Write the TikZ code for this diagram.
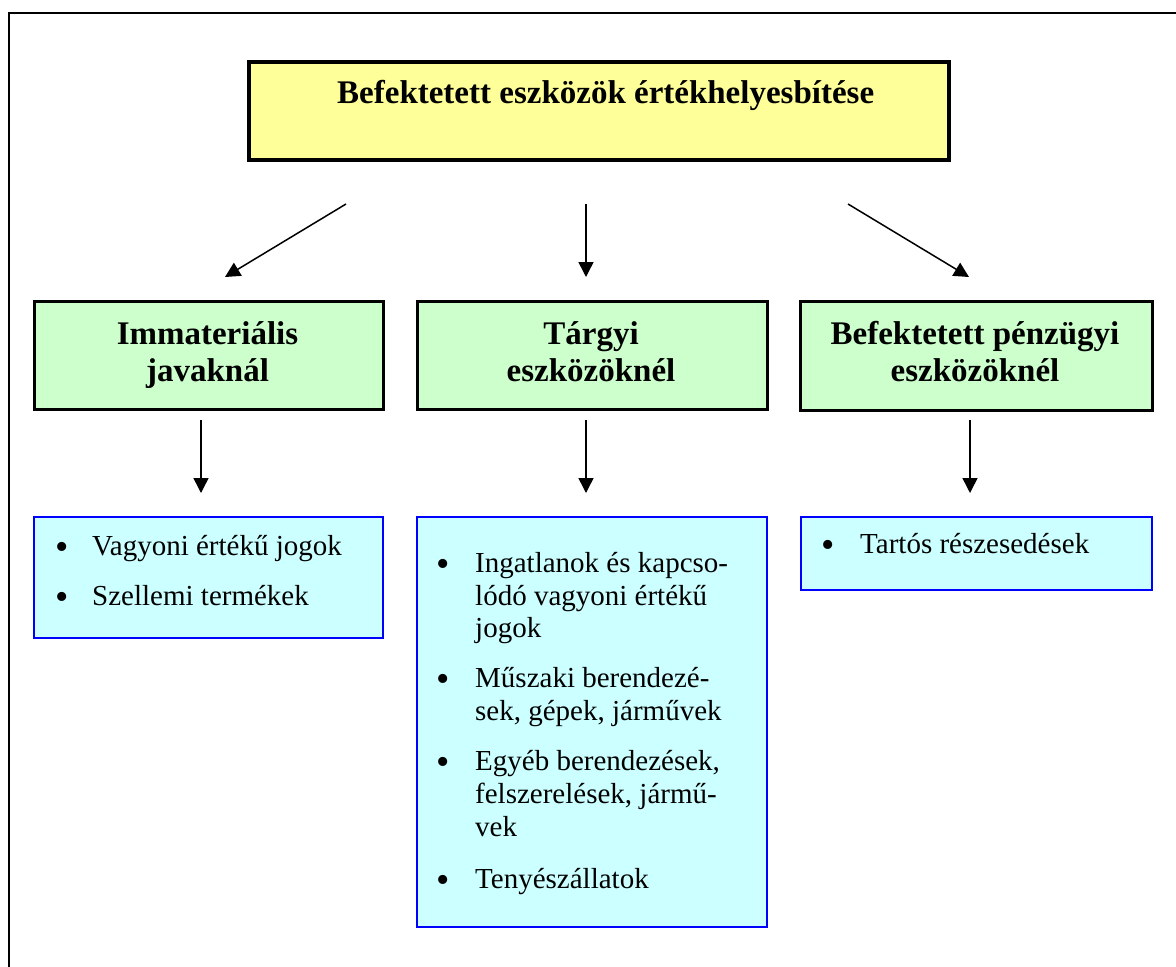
\documentclass[tikz,border=0pt]{standalone}
\usepackage{fontspec}
\setmainfont{Liberation Serif}
\usetikzlibrary{arrows.meta}

\definecolor{titlefill}{HTML}{FFFF99}
\definecolor{groupfill}{HTML}{CCFFCC}
\definecolor{listfill}{HTML}{CCFFFF}
\definecolor{listedge}{HTML}{0000FF}

\tikzset{
  titlebox/.style={draw=black, line width=3.5pt, fill=titlefill, inner sep=0pt, anchor=north west},
  groupbox/.style={draw=black, line width=3pt, fill=groupfill, inner sep=0pt, anchor=north west},
  listbox/.style={draw=listedge, line width=2.2pt, fill=listfill, inner sep=0pt, anchor=north west},
  headtxt/.style={font=\fontsize{33}{37}\selectfont\bfseries, anchor=base, inner sep=0pt},
  itemtxt/.style={font=\fontsize{29}{33}\selectfont, anchor=base west, inner sep=0pt},
  bulletmark/.style={font=\fontsize{38}{40}\selectfont, anchor=base, inner sep=0pt, yshift=-4.5pt},
  link/.style={line width=1.5pt, -{Triangle[length=15pt,width=15pt]}},
  frameline/.style={line width=2pt},
}

\begin{document}
\begin{tikzpicture}[x=1pt, y=-1pt]
\useasboundingbox (0,0) rectangle (1176,967);

% outer frame (left and top edges)
\coordinate (fbl) at (9,967);
\coordinate (ftl) at (9,13);
\coordinate (ftr) at (1176,13);
\draw[frameline] (fbl) -- (ftl) -- (ftr);

% title
\node[titlebox, minimum width=700pt, minimum height=98pt] (title) at (247,60) {};
\node[headtxt, anchor=base west] (titletext) at (337,103) {Befektetett eszközök értékhelyesbítése};

% groups
\node[groupbox, minimum width=349pt, minimum height=108pt] (g1) at (33,300) {};
\node[groupbox, minimum width=350pt, minimum height=108pt] (g2) at (416,300) {};
\node[groupbox, minimum width=352pt, minimum height=109pt] (g3) at (799,300) {};

\node[headtxt] (g1a) at (207.5,344) {Immateriális};
\node[headtxt] (g1b) at (207.5,381) {javaknál};
\node[headtxt] (g2a) at (591,344) {Tárgyi};
\node[headtxt] (g2b) at (591,381) {eszközöknél};
\node[headtxt] (g3a) at (975,344) {Befektetett pénzügyi};
\node[headtxt] (g3b) at (975,381) {eszközöknél};

% lists
\node[listbox, minimum width=349pt, minimum height=121pt] (l1) at (33,516) {};
\node[listbox, minimum width=350pt, minimum height=410pt] (l2) at (416,516) {};
\node[listbox, minimum width=351pt, minimum height=73pt] (l3) at (800,516) {};

\node[bulletmark] (b11) at (62,555) {\textbullet};
\node[itemtxt] (t11) at (92,555) {Vagyoni értékű jogok};
\node[bulletmark] (b12) at (62,605) {\textbullet};
\node[itemtxt] (t12) at (92,605) {Szellemi termékek};

\node[bulletmark] (b21) at (443,572) {\textbullet};
\node[itemtxt] (t21a) at (475,572) {Ingatlanok és kapcso-};
\node[itemtxt] (t21b) at (475,605) {lódó vagyoni értékű};
\node[itemtxt] (t21c) at (475,637) {jogok};
\node[bulletmark] (b22) at (443,687) {\textbullet};
\node[itemtxt] (t22a) at (475,687) {Műszaki berendezé-};
\node[itemtxt] (t22b) at (475,720) {sek, gépek, járművek};
\node[bulletmark] (b23) at (443,770) {\textbullet};
\node[itemtxt] (t23a) at (475,770) {Egyéb berendezések,};
\node[itemtxt] (t23b) at (475,803) {felszerelések, jármű-};
\node[itemtxt] (t23c) at (475,836) {vek};
\node[bulletmark] (b24) at (443,888) {\textbullet};
\node[itemtxt] (t24) at (475,888) {Tenyészállatok};

\node[bulletmark] (b31) at (828,553) {\textbullet};
\node[itemtxt] (t31) at (860,553) {Tartós részesedések};

% connectors
\coordinate (s1) at (346,204);  \coordinate (e1) at (225,277);
\coordinate (s2) at (586,204);  \coordinate (e2) at (586,277);
\coordinate (s3) at (848,204);  \coordinate (e3) at (969,277);
\coordinate (d1s) at (201,420); \coordinate (d1e) at (201,493);
\coordinate (d2s) at (586,420); \coordinate (d2e) at (586,493);
\coordinate (d3s) at (970,420); \coordinate (d3e) at (970,493);

\draw[link] (s1) -- (e1);
\draw[link] (s2) -- (e2);
\draw[link] (s3) -- (e3);
\draw[link] (d1s) -- (d1e);
\draw[link] (d2s) -- (d2e);
\draw[link] (d3s) -- (d3e);
\end{tikzpicture}
\end{document}
